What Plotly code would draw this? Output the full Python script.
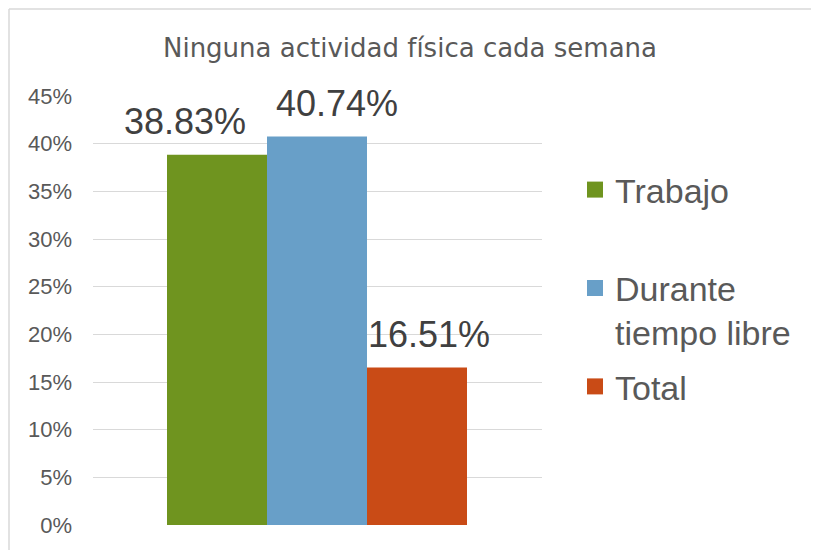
import plotly.graph_objects as go

series = ["Trabajo", "Durante<br>tiempo libre", "Total"]
values = [0.3883, 0.4074, 0.1651]
labels = ["38.83%", "40.74%", "16.51%"]
colors = ["#6F941F", "#689FC8", "#C94B16"]
label_xshift = [-32, 20, 12]
yticks = [0, 0.05, 0.10, 0.15, 0.20, 0.25, 0.30, 0.35, 0.40, 0.45]

OFF = 8  # page body margin
W, H = 819 - OFF, 550 - OFF
L, T = 93 - OFF, 96 - OFF
plot_right, plot_bottom = 542 - OFF, 525 - OFF
R, B = W - plot_right, H - plot_bottom
pw, ph = W - L - R, H - T - B

fig = go.Figure()
for i, (name, v, c) in enumerate(zip(series, values, colors)):
    fig.add_trace(go.Bar(x=[i], y=[v], width=1, marker=dict(color=c, line=dict(width=0)),
                         showlegend=False, hoverinfo="skip"))
    legend_name = name if "<br>" in name else name + "<br> "
    fig.add_trace(go.Scatter(x=[None], y=[None], mode="markers", name=legend_name,
                             marker=dict(symbol="square", size=19, color=c, line=dict(width=0)),
                             legendgroup=f"g{i}", showlegend=True))
    fig.add_annotation(x=i, y=v, xref="x", yref="y", text=labels[i], showarrow=False,
                       yanchor="bottom", xanchor="center", xshift=label_xshift[i], yshift=11,
                       font=dict(family="Liberation Sans, Arial", size=36, color="#404040"))

x0 = -(217 - OFF - L) / 100.0
fig.update_xaxes(range=[x0, x0 + pw / 100.0], showticklabels=False, showgrid=False,
                 zeroline=False, showline=False, ticks="")
fig.update_yaxes(range=[0, 0.45], tickvals=yticks, tickformat=".0%", showgrid=True,
                 gridcolor="#D9D9D9", gridwidth=1.3, zeroline=False, showline=False,
                 ticks="", ticklabelstandoff=20,
                 tickfont=dict(family="Liberation Sans, Arial", size=22, color="#595959"))

# chart border (top and left edges visible)
bx = (9 - OFF - L) / pw
by = (H - B - 1) / ph
fig.add_shape(type="line", xref="paper", yref="paper", x0=bx, x1=(W - L) / pw + 0.1, y0=by, y1=by,
              line=dict(color="#D9D9D9", width=1.5), layer="below")
fig.add_shape(type="line", xref="paper", yref="paper", x0=bx, x1=bx, y0=by, y1=-B / ph - 0.1,
              line=dict(color="#D9D9D9", width=1.5), layer="below")

fig.update_layout(
    width=W, height=H,
    margin=dict(l=L, r=R, t=T, b=B),
    paper_bgcolor="white", plot_bgcolor="white",
    barmode="overlay",
    title=dict(text="Ninguna actividad física cada semana", x=(410 - OFF) / W, xanchor="center",
               xref="container", y=1 - (48 - OFF) / H, yanchor="middle", yref="container",
               font=dict(family="DejaVu Sans, Arial", size=26, color="#595959")),
    legend=dict(x=(575 - OFF - L) / pw, xanchor="left", y=(H - B - (161 - OFF)) / ph, yanchor="top",
                valign="top", tracegroupgap=7, traceorder="grouped",
                font=dict(family="Liberation Sans, Arial", size=34, color="#595959"),
                bgcolor="rgba(0,0,0,0)"),
    showlegend=True,
)

fig.write_html("out.html")
